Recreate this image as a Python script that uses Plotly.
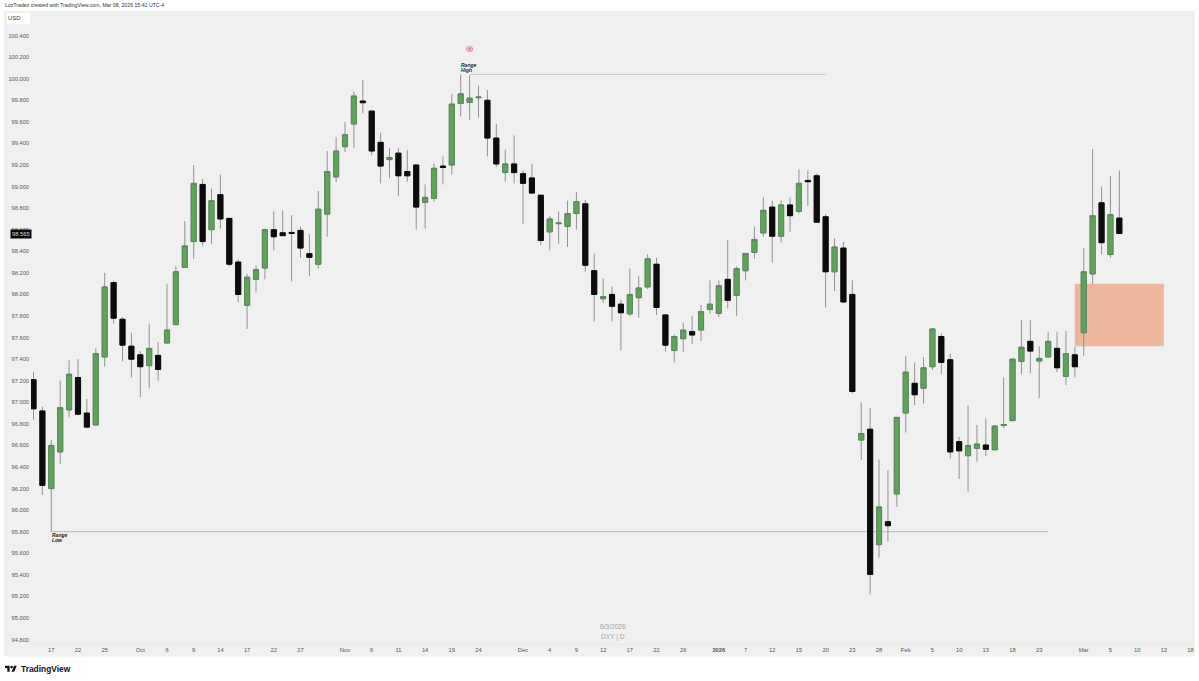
import plotly.graph_objects as go

opens = [97.21, 96.92, 96.20, 96.54, 96.93, 97.23, 96.90, 96.79, 97.42, 98.11,
         97.77, 97.52, 97.44, 97.34, 97.435, 97.55, 97.72, 98.25, 98.49, 99.02,
         98.60, 98.925, 98.705, 98.30, 97.90, 98.14, 98.245, 98.60, 98.572, 98.575,
         98.594, 98.378, 98.28, 98.745, 99.09, 99.37, 99.58, 99.793, 99.70, 99.41,
         99.25, 99.31, 99.14, 99.20, 98.854, 98.89, 99.19, 99.20, 99.77, 99.78,
         99.824, 99.80, 99.45, 99.13, 99.21, 99.12, 99.08, 98.92, 98.58, 98.656,
         98.63, 98.75, 98.84, 98.22, 97.96, 98.00, 97.91, 97.82, 97.97, 98.07,
         98.28, 97.81, 97.48, 97.59, 97.655, 97.67, 97.86, 97.825, 98.14, 97.99,
         98.22, 98.39, 98.57, 98.81, 98.54, 98.83, 98.77, 99.057, 99.10, 98.72,
         98.21, 98.43, 98.00, 96.65, 96.75, 95.68, 95.893, 96.15, 96.90, 97.176,
         97.13, 97.33, 97.61, 97.395, 96.635, 96.505, 96.573, 96.604, 96.56, 96.786,
         96.83, 97.38, 97.565, 97.382, 97.42, 97.50, 97.24, 97.44, 97.645, 98.19,
         98.85, 98.37, 98.708]
highs = [97.28, 96.96, 96.65, 97.20, 97.39, 97.40, 97.03, 97.50, 98.20, 98.13,
         97.79, 97.645, 97.475, 97.73, 97.56, 98.10, 98.26, 98.68, 99.20, 99.07,
         98.98, 99.11, 98.705, 98.325, 98.19, 98.27, 98.61, 98.77, 98.78, 98.735,
         98.63, 98.56, 98.96, 99.33, 99.46, 99.60, 99.88, 99.99, 99.70, 99.50,
         99.36, 99.36, 99.34, 99.20, 99.02, 99.215, 99.28, 99.86, 100.04, 100.03,
         99.935, 99.895, 99.58, 99.345, 99.475, 99.15, 99.21, 98.92, 98.73, 98.77,
         98.87, 98.95, 98.875, 98.38, 98.15, 98.075, 97.95, 98.24, 98.17, 98.375,
         98.34, 97.82, 97.63, 97.74, 97.80, 97.905, 98.13, 98.13, 98.505, 98.26,
         98.38, 98.63, 98.90, 98.87, 98.87, 98.90, 99.16, 99.15, 99.12, 98.745,
         98.52, 98.49, 98.13, 97.00, 96.95, 96.47, 96.37, 96.86, 97.43, 97.37,
         97.42, 97.685, 97.64, 97.45, 96.68, 96.97, 96.79, 96.85, 96.79, 97.23,
         97.41, 97.76, 97.76, 97.52, 97.655, 97.655, 97.66, 97.515, 98.43, 99.35,
         99.00, 99.10, 99.15]
lows = [96.84, 96.14, 95.80, 96.43, 96.86, 96.89, 96.76, 96.79, 97.33, 97.73,
        97.38, 97.23, 97.05, 97.13, 97.20, 97.54, 97.72, 98.25, 98.33, 98.45,
        98.47, 98.61, 98.26, 97.93, 97.68, 98.02, 98.14, 98.41, 98.545, 98.12,
        98.34, 98.17, 98.24, 98.535, 99.04, 99.32, 99.36, 99.68, 99.29, 99.03,
        99.08, 98.91, 99.045, 98.60, 98.61, 98.86, 99.02, 99.11, 99.65, 99.62,
        99.64, 99.28, 99.18, 99.045, 99.03, 98.655, 98.937, 98.455, 98.41, 98.47,
        98.44, 98.60, 98.21, 97.75, 97.92, 97.75, 97.48, 97.80, 97.785, 98.05,
        97.81, 97.47, 97.37, 97.47, 97.54, 97.57, 97.82, 97.79, 97.87, 97.80,
        98.13, 98.33, 98.535, 98.295, 98.48, 98.58, 98.75, 98.82, 98.674, 97.88,
        98.03, 97.93, 97.08, 96.465, 95.22, 95.56, 95.71, 96.03, 96.72, 96.975,
        96.99, 97.30, 97.26, 96.48, 96.29, 96.17, 96.45, 96.50, 96.56, 96.76,
        96.83, 97.26, 97.27, 97.04, 97.415, 97.28, 97.16, 97.23, 97.43, 98.10,
        98.37, 98.34, 98.563]
closes = [96.94, 96.23, 96.60, 96.95, 97.26, 96.89, 96.77, 97.45, 98.07, 97.78,
          97.53, 97.40, 97.33, 97.50, 97.305, 97.67, 98.21, 98.45, 99.03, 98.49,
          98.87, 98.70, 98.28, 98.00, 98.16, 98.23, 98.60, 98.535, 98.545, 98.566,
          98.43, 98.344, 98.79, 99.14, 99.33, 99.48, 99.84, 99.778, 99.33, 99.19,
          99.27, 99.10, 99.10, 98.81, 98.90, 99.17, 99.178, 99.765, 99.86, 99.82,
          99.83, 99.45, 99.21, 99.21, 99.13, 99.03, 98.94, 98.50, 98.70, 98.662,
          98.75, 98.86, 98.27, 98.00, 97.98, 97.89, 97.83, 98.00, 98.06, 98.33,
          97.88, 97.53, 97.61, 97.67, 97.624, 97.84, 97.91, 98.08, 97.945, 98.24,
          98.38, 98.51, 98.78, 98.54, 98.83, 98.73, 99.03, 99.045, 98.67, 98.21,
          98.44, 97.93, 97.10, 96.71, 95.405, 96.03, 95.856, 96.86, 97.28, 97.07,
          97.32, 97.68, 97.37, 96.54, 96.55, 96.60, 96.613, 96.564, 96.78, 96.793,
          97.40, 97.51, 97.475, 97.407, 97.565, 97.32, 97.45, 97.33, 98.21, 98.73,
          98.48, 98.74, 98.565]
bar_index = list(range(len(opens)))

price_ticks = [94.8, 95.0, 95.2, 95.4, 95.6, 95.8, 96.0, 96.2, 96.4, 96.6, 96.8, 97.0, 97.2, 97.4, 97.6,
               97.8, 98.0, 98.2, 98.4, 98.6, 98.8, 99.0, 99.2, 99.4, 99.6, 99.8, 100.0, 100.2, 100.4]
date_tick_bars = [2, 5, 8, 12, 15, 18, 21, 24, 27, 30, 35, 38, 41, 44, 47, 50, 55, 58, 61, 64, 67, 70, 73, 77,
                  80, 83, 86, 89, 92, 95, 98, 101, 104, 107, 110, 113, 118, 121, 124, 127, 130]
date_tick_labels = ["17", "22", "25", "Oct", "6", "9", "14", "17", "22", "27", "Nov", "6", "11", "14", "19", "24",
                    "Dec", "4", "9", "12", "17", "22", "26", "<b>2026</b>", "7", "12", "15", "20", "23", "28",
                    "Feb", "5", "10", "13", "18", "23", "Mar", "5", "10", "13", "18"]

range_high = 100.04
range_low = 95.80
zone_top = 98.10
zone_bottom = 97.52
last_price = 98.565

PLOT_L, PLOT_T, PLOT_W, PLOT_H = 31, 11, 1164, 633
FONT = "Liberation Sans"


def px_x(x):
    return (x - PLOT_L) / PLOT_W


def px_y(y):
    return 1 - (y - PLOT_T) / PLOT_H


def logo_path(points):
    # tradingview mark, drawn from its 36 unit wide outline
    parts = []
    for i, (a, b) in enumerate(points):
        parts.append(("M" if i == 0 else "L") + f"{px_x(5 + a * 0.33):.5f},{px_y(664.4 + b * 0.33):.5f}")
    return " ".join(parts) + " Z"


fig = go.Figure()

# wicks first, bodies over them so they keep their own outline colour
fig.add_trace(go.Candlestick(x=bar_index, open=opens, high=highs, low=lows, close=closes,
                             whiskerwidth=0,
                             increasing=dict(line=dict(color="#929292", width=1), fillcolor="#5c9e58"),
                             decreasing=dict(line=dict(color="#929292", width=1), fillcolor="#0c0c0c"),
                             hoverinfo="skip"))
fig.add_trace(go.Candlestick(x=bar_index, open=opens, close=closes,
                             high=[max(o, c) for o, c in zip(opens, closes)],
                             low=[min(o, c) for o, c in zip(opens, closes)],
                             whiskerwidth=0,
                             increasing=dict(line=dict(color="#5a8a5a", width=1), fillcolor="#5fa35b"),
                             decreasing=dict(line=dict(color="#0c0c0c", width=1), fillcolor="#0c0c0c"),
                             hoverinfo="skip"))

# pupil of the eye icon above the range high
fig.add_trace(go.Scatter(x=[49], y=[100.275], mode="markers",
                         marker=dict(symbol="circle", size=2, color="#d9626f"), hoverinfo="skip"))

shapes = [
    dict(type="rect", xref="paper", yref="paper", x0=px_x(4), x1=px_x(1195), y0=px_y(656.5), y1=px_y(11),
         fillcolor="#f0f0f0", line_width=0, layer="below"),
    dict(type="rect", xref="paper", yref="paper", x0=px_x(7), x1=px_x(30), y0=px_y(24), y1=px_y(13),
         fillcolor="#ffffff", line_width=0, layer="below"),
    dict(type="rect", xref="x", yref="y", x0=117, x1=127, y0=zone_bottom, y1=zone_top,
         fillcolor="#edb79b", line_width=0, layer="below"),
    dict(type="line", xref="x", yref="y", x0=49, x1=89, y0=range_high, y1=range_high,
         line=dict(color="#c9c9c9", width=1), layer="below"),
    dict(type="line", xref="x", yref="y", x0=2, x1=114, y0=range_low, y1=range_low,
         line=dict(color="#b5b5b5", width=1), layer="below"),
    dict(type="circle", xref="x", yref="y", x0=48.65, x1=49.35, y0=100.252, y1=100.298,
         fillcolor="#f4c4cb", line=dict(color="#e58a96", width=1), layer="below"),
    dict(type="path", xref="paper", yref="paper", fillcolor="#111111", line_width=0,
         path=logo_path([(0, 4), (14, 4), (14, 22), (7, 22), (7, 11), (0, 11)])),
    dict(type="path", xref="paper", yref="paper", fillcolor="#111111", line_width=0,
         path=logo_path([(27.5, 4), (35.5, 4), (28, 22), (20, 22)])),
    dict(type="circle", xref="paper", yref="paper", fillcolor="#111111", line_width=0,
         x0=px_x(5 + 16 * 0.33), x1=px_x(5 + 24 * 0.33), y0=px_y(664.4 + 12 * 0.33), y1=px_y(664.4 + 4 * 0.33)),
]

annotations = [
    dict(text="LozTradez created with TradingView.com, Mar 08, 2026 15:41 UTC-4", xref="paper", yref="paper",
         x=px_x(2.5), y=px_y(5.5), xanchor="left", yanchor="middle", showarrow=False,
         font=dict(family=FONT, size=5.2, color="#333333")),
    dict(text="USD", xref="paper", yref="paper", x=px_x(14.5), y=px_y(18), xanchor="center", yanchor="middle",
         showarrow=False, font=dict(family=FONT, size=6, color="#444444")),
    dict(text=f"{last_price:.3f}", xref="paper", yref="y", x=px_x(31.5), y=last_price, xanchor="right",
         yanchor="middle", showarrow=False, bgcolor="#0b0b0b", borderpad=1,
         font=dict(family=FONT, size=5.8, color="#d8d8d8")),
    dict(text="<b><i>Range</i></b>", xref="x", yref="y", x=47.85, y=100.127, xanchor="left", yanchor="middle",
         showarrow=False, font=dict(family=FONT, size=5, color="#222222")),
    dict(text="<b><i>High</i></b>", xref="x", yref="y", x=47.85, y=100.08, xanchor="left", yanchor="middle",
         showarrow=False, font=dict(family=FONT, size=5, color="#222222")),
    dict(text="<b><i>Range</i></b>", xref="x", yref="y", x=1.85, y=95.769, xanchor="left", yanchor="middle",
         showarrow=False, font=dict(family=FONT, size=5, color="#222222")),
    dict(text="<b><i>Low</i></b>", xref="x", yref="y", x=1.85, y=95.722, xanchor="left", yanchor="middle",
         showarrow=False, font=dict(family=FONT, size=5, color="#222222")),
    dict(text="6/3/2026", xref="paper", yref="paper", x=px_x(613), y=px_y(626.5), xanchor="center",
         yanchor="middle", showarrow=False, font=dict(family=FONT, size=6.6, color="#a3a3a3")),
    dict(text="DXY | D", xref="paper", yref="paper", x=px_x(613), y=px_y(636.5), xanchor="center",
         yanchor="middle", showarrow=False, font=dict(family=FONT, size=6.6, color="#a3a3a3")),
    dict(text="<b>TradingView</b>", xref="paper", yref="paper", x=px_x(18.5), y=px_y(669), xanchor="left",
         yanchor="middle", showarrow=False, font=dict(family=FONT, size=8.4, color="#111111")),
]

fig.update_layout(
    width=1199, height=681, autosize=False,
    margin=dict(l=PLOT_L, r=1199 - PLOT_L - PLOT_W, t=PLOT_T, b=681 - PLOT_T - PLOT_H, pad=0),
    paper_bgcolor="#ffffff", plot_bgcolor="rgba(0,0,0,0)",
    showlegend=False, boxgap=0.18, boxmode="overlay",
    shapes=shapes, annotations=annotations,
    font=dict(family=FONT, size=6, color="#555555"),
    xaxis=dict(range=[-0.28, 130.5], rangeslider_visible=False, showgrid=False, zeroline=False,
               tickmode="array", tickvals=date_tick_bars, ticktext=date_tick_labels, ticks="",
               tickangle=0, showline=True, linecolor="#e9e9e9", linewidth=1, automargin=False,
               tickfont=dict(size=5.8, color="#555555")),
    yaxis=dict(range=[94.759, 100.628], showgrid=False, zeroline=False, tickmode="array",
               tickvals=price_ticks, ticktext=[f"{p:.3f}" for p in price_ticks], ticks="",
               ticklabelstandoff=1, showline=False, automargin=False, tickfont=dict(size=5.7, color="#555555")),
)

fig.write_html("out.html", config={"displayModeBar": False}, post_script="document.body.style.margin='0';")
